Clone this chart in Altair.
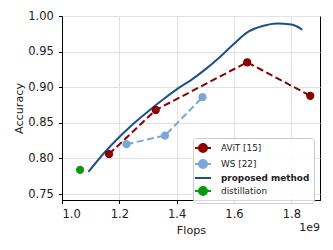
import altair as alt
import pandas as pd

# ---- data ----
avit_flops = [1.164, 1.327, 1.646, 1.866]
avit_acc = [0.806, 0.868, 0.935, 0.888]

ws_flops = [1.225, 1.359, 1.490]
ws_acc = [0.820, 0.832, 0.886]

dist_flops = [1.063]
dist_acc = [0.784]

prop_flops = [1.092, 1.15, 1.20, 1.25, 1.30, 1.35, 1.40, 1.45, 1.50, 1.55,
              1.60, 1.65, 1.70, 1.75, 1.80, 1.838]
prop_acc = [0.781, 0.809, 0.830, 0.849, 0.866, 0.882, 0.897, 0.910, 0.925, 0.942,
            0.961, 0.978, 0.986, 0.9895, 0.988, 0.981]

series_names = ["AViT [15]", " WS [22]", "proposed method", "distillation"]
series_colors = ["#8b0000", "#7ba7d8", "#1b5189", "#0a9a0a"]

x_ticks = [1.0, 1.2, 1.4, 1.6, 1.8]
y_ticks = [0.75, 0.80, 0.85, 0.90, 0.95, 1.00]

FONT = "DejaVu Sans"

avit = pd.DataFrame({"flops": avit_flops, "acc": avit_acc})
ws = pd.DataFrame({"flops": ws_flops, "acc": ws_acc})
dist = pd.DataFrame({"flops": dist_flops, "acc": dist_acc})
prop = pd.DataFrame({"flops": prop_flops, "acc": prop_acc})

xs = alt.Scale(domain=[1.0, 1.9], nice=False, zero=False)
ys = alt.Scale(domain=[0.7416, 1.0], nice=False, zero=False)

X = alt.X("flops:Q", scale=xs, title="Flops",
          axis=alt.Axis(values=x_ticks, format=".1f"))
Y = alt.Y("acc:Q", scale=ys, title="Accuracy",
          axis=alt.Axis(values=y_ticks, format=".2f"))

prop_line = alt.Chart(prop).mark_line(
    color=series_colors[2], strokeWidth=2, interpolate="monotone"
).encode(x=X, y=Y)

avit_line = alt.Chart(avit).mark_line(
    color=series_colors[0], strokeWidth=2, strokeDash=[7, 3.5]
).encode(x=X, y=Y)
avit_pts = alt.Chart(avit).mark_point(
    filled=True, color=series_colors[0], size=68, opacity=1
).encode(x=X, y=Y)

ws_line = alt.Chart(ws).mark_line(
    color=series_colors[1], strokeWidth=2, strokeDash=[7, 3.5]
).encode(x=X, y=Y)
ws_pts = alt.Chart(ws).mark_point(
    filled=True, color=series_colors[1], size=68, opacity=1
).encode(x=X, y=Y)

dist_pts = alt.Chart(dist).mark_point(
    filled=True, color=series_colors[3], size=68, opacity=1
).encode(x=X, y=Y)

# legend-only layer (no marks drawn; legend from explicit domain)
line_dot = "M-1.6,0L1.6,0M-0.8,0A0.8,0.8,0,1,1,0.8,0A0.8,0.8,0,1,1,-0.8,0Z"
line_only = "M-1.6,0L1.6,0"
shapes = [line_dot, line_dot, line_only, line_dot]

leg_df = pd.DataFrame({"series": series_names, "flops": [1.5] * 4, "acc": [0.9] * 4})
legend = alt.Legend(
    title=None, orient="none", legendX=131, legendY=122,
    symbolSize=100, symbolStrokeWidth=2, symbolOpacity=1,
    labelFont=FONT, labelFontSize=8.9, labelColor="#222222",
    labelFontWeight=alt.ExprRef(expr="datum.label === 'proposed method' ? 'bold' : 'normal'"),
    labelOffset=12, rowPadding=0, padding=4,
    strokeColor="#cccccc", fillColor="rgba(255,255,255,0.85)", cornerRadius=3,
)
leg_layer = alt.Chart(leg_df).transform_filter("false").mark_point(
    filled=True
).encode(
    x=X, y=Y,
    fill=alt.Fill("series:N", scale=alt.Scale(domain=series_names, range=series_colors),
                  legend=legend, sort=series_names),
    stroke=alt.Stroke("series:N", scale=alt.Scale(domain=series_names, range=series_colors),
                      legend=legend, sort=series_names),
    shape=alt.Shape("series:N", scale=alt.Scale(domain=series_names, range=shapes),
                    legend=legend, sort=series_names),
)

exp_text = alt.Chart(pd.DataFrame({"t": ["1e9"]})).mark_text(
    align="right", baseline="middle", font=FONT, fontSize=11, color="#222222"
).encode(text="t:N", x=alt.value(258), y=alt.value(212))

chart = alt.layer(
    prop_line, avit_line, ws_line, avit_pts, ws_pts, dist_pts, leg_layer, exp_text
).properties(
    width=258, height=184,
    autosize=alt.AutoSizeParams(type="none"),
    padding={"left": 54, "top": 8, "right": 5, "bottom": 42},
).configure_view(
    stroke="black", strokeWidth=1
).configure_axis(
    labelFont=FONT, labelFontSize=11.5, labelColor="#222222",
    titleFont=FONT, titleFontSize=11.2, titleFontWeight="normal", titleColor="#222222",
    domainColor="black", domainWidth=1, tickColor="black", tickSize=3.5, tickWidth=1,
    gridColor="#e2e2e2", gridWidth=1,
).configure_axisX(
    labelPadding=5, titlePadding=4
).configure_axisY(
    labelPadding=5.2, titlePadding=3
)

chart.save("out.html", embed_options={"renderer": "svg", "actions": False})
